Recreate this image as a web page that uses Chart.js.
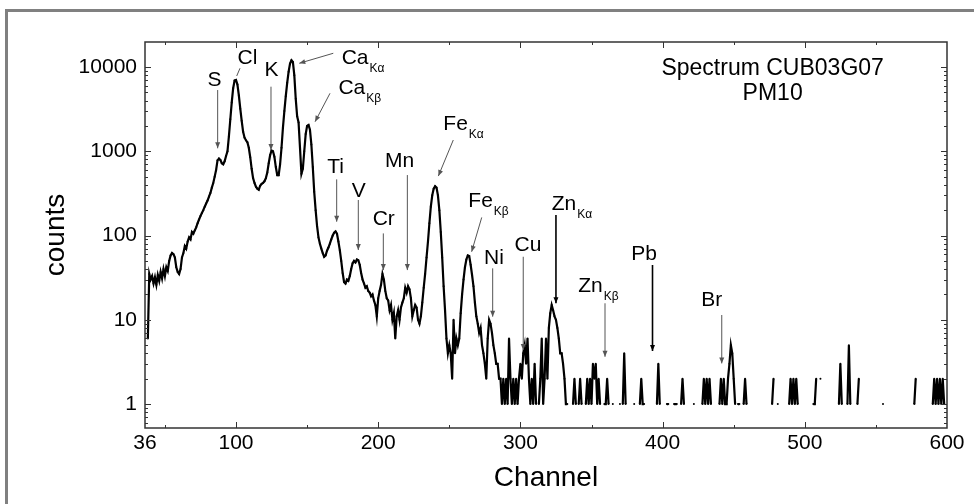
<!DOCTYPE html>
<html>
<head>
<meta charset="utf-8">
<script src="https://cdn.jsdelivr.net/npm/chart.js@4/dist/chart.umd.min.js"></script>
<style>
  html, body { margin: 0; padding: 0; background: #fff; }
  #c { display: block; }
</style>
</head>
<body>
<canvas id="c" width="974" height="504"></canvas>
<script>
// spectrum: counts per channel, starting at channel 36 (0 = no counts)
const firstChannel = 36;
const counts = [
  0, 0, 6, 35, 30, 33, 27, 32, 26, 34,
  29, 37, 31, 40, 33, 42, 38, 50, 58, 62,
  60, 55, 42, 37, 35, 40, 55, 62, 75, 70,
  85, 95, 90, 110, 105, 115, 125, 140, 155, 170,
  185, 200, 220, 240, 260, 290, 320, 370, 420, 500,
  600, 780, 820, 790, 720, 700, 760, 880, 1000, 1500,
  2400, 3800, 5600, 6900, 7000, 6200, 4600, 3200, 2300, 1700,
  1450, 1350, 1280, 1100, 850, 620, 480, 420, 380, 360,
  350, 390, 410, 420, 440, 480, 560, 720, 900, 1020,
  1000, 860, 650, 520, 520, 700, 1100, 1900, 3000, 4500,
  6500, 8800, 11000, 12000, 11500, 8000, 4200, 2600, 2200, 1100,
  540, 620, 1000, 1600, 2000, 2050, 1800, 1200, 650, 330,
  200, 130, 95, 80, 70, 62, 56, 58, 66, 72,
  80, 90, 100, 108, 112, 105, 85, 67, 50, 36,
  28, 27, 30, 29, 33, 40, 47, 50, 48, 52,
  51, 45, 36, 30, 27, 24, 25, 22, 21, 19,
  20, 17, 15, 11, 18, 22, 26, 35, 30, 22,
  18, 17, 13, 15, 10, 12, 6, 11, 13, 10,
  14, 16, 18, 24, 21, 25, 23, 18, 11, 13,
  15, 14, 10, 9, 11, 16, 24, 35, 55, 85,
  140, 220, 300, 360, 385, 370, 300, 200, 110, 55,
  25, 13, 6, 4, 5, 4, 2, 10, 4, 6,
  5, 6, 12, 20, 30, 42, 52, 58, 57, 45,
  34, 25, 16, 11, 9, 7, 8, 5, 4, 3,
  2, 6, 10, 9, 7, 5, 4, 3, 3, 2,
  2, 1, 2, 1, 2, 1, 6, 2, 1, 2,
  1, 2, 1, 2, 3, 2, 4, 5, 3, 6,
  2, 1, 2, 1, 3, 1, 0, 1, 2, 6,
  1, 2, 6, 2, 8, 12, 15, 13, 11, 10,
  8, 6, 4, 4, 3, 2, 1, 1, 0, 0,
  0, 1, 2, 1, 0, 1, 2, 1, 0, 0,
  1, 2, 1, 2, 1, 3, 2, 3, 1, 2,
  1, 0, 0, 1, 1, 2, 1, 0, 0, 1,
  0, 0, 0, 0, 1, 0, 1, 4, 1, 0,
  0, 0, 0, 0, 1, 0, 0, 0, 1, 2,
  1, 1, 0, 0, 0, 0, 0, 0, 0, 0,
  1, 3, 1, 0, 0, 0, 0, 1, 1, 0,
  0, 0, 1, 1, 1, 0, 0, 1, 2, 1,
  0, 0, 0, 0, 0, 0, 1, 0, 0, 0,
  0, 0, 1, 2, 1, 2, 1, 2, 1, 0,
  0, 0, 0, 0, 1, 2, 1, 2, 1, 1,
  2, 3, 5, 4, 2, 1, 0, 1, 1, 0,
  0, 1, 2, 1, 0, 0, 0, 0, 0, 0,
  0, 0, 0, 0, 0, 0, 0, 0, 0, 0,
  0, 1, 2, 0, 0, 1, 0, 0, 0, 0,
  0, 0, 0, 1, 2, 1, 2, 1, 2, 1,
  0, 0, 0, 0, 0, 0, 0, 0, 0, 0,
  1, 1, 2, 0, 0, 2, 0, 0, 0, 0,
  0, 0, 0, 0, 0, 0, 0, 0, 1, 3,
  1, 0, 0, 0, 1, 5, 1, 0, 0, 0,
  0, 1, 2, 0, 0, 0, 0, 0, 0, 0,
  0, 0, 0, 0, 0, 0, 0, 0, 0, 1,
  0, 0, 0, 0, 0, 0, 0, 0, 0, 0,
  0, 0, 0, 0, 0, 0, 0, 0, 0, 0,
  0, 1, 2, 0, 0, 0, 0, 0, 0, 0,
  0, 0, 0, 0, 1, 2, 1, 2, 1, 2,
  1, 2, 1, 0, 0
];

const xTickValues = [36, 100, 200, 300, 400, 500, 600];
const xMinorTicks = [50, 150, 250, 350, 450, 550];
const yTickValues = [1, 10, 100, 1000, 10000];

// element labels: text anchor and arrow (from -> to) in channel / counts units
const peakLabels = [
  { text: 'S', x: 84.9, y: 5950, arrow: [87.1, 5330, 87.1, 1084] },
  { text: 'Cl', x: 108.1, y: 10860, arrow: [102.8, 9660, 100.5, 7820], noHead: true },
  { text: 'K', x: 125, y: 7820, arrow: [124.6, 5840, 124.6, 1035] },
  { text: 'Ca', sub: 'K\u03b1', x: 174.3, y: 10860, left: true, arrow: [168.4, 14550, 144.5, 11070] },
  { text: 'Ca', sub: 'K\u03b2', x: 172.0, y: 4780, left: true, arrow: [166.1, 4875, 155.6, 2243] },
  { text: 'Ti', x: 170, y: 547, arrow: [170.8, 464, 170.8, 146] },
  { text: 'V', x: 186.3, y: 289, arrow: [186, 264, 186, 67.3] },
  { text: 'Cr', x: 203.9, y: 133, arrow: [203.6, 106, 203.6, 38.9] },
  { text: 'Mn', x: 215.1, y: 656, arrow: [220.5, 522, 220.5, 38.9] },
  { text: 'Fe', sub: 'K\u03b1', x: 245.8, y: 1787, left: true, arrow: [252.8, 1360, 242.3, 508] },
  { text: 'Fe', sub: 'K\u03b2', x: 263.4, y: 220, left: true, arrow: [272.8, 164, 265.7, 64.2] },
  { text: 'Ni', x: 281.4, y: 45.9, arrow: [280.5, 40.8, 280.5, 10.9] },
  { text: 'Cu', x: 305.3, y: 66, arrow: [302, 56, 302, 4.38] },
  { text: 'Zn', sub: 'K\u03b1', x: 322, y: 201, left: true, arrow: [325, 175, 325, 15.7], bold: true },
  { text: 'Zn', sub: 'K\u03b2', x: 340.7, y: 21.5, left: true, arrow: [359.5, 15.7, 359.5, 3.64] },
  { text: 'Pb', x: 386.9, y: 51.2, arrow: [392.9, 44.7, 392.9, 4.26], bold: true },
  { text: 'Br', x: 434.5, y: 14.7, arrow: [441.6, 11.4, 441.6, 3.04] }
];
const titleLines = [
  { text: 'Spectrum CUB03G07', x: 477.4, y: 8040 },
  { text: 'PM10', x: 477.4, y: 4060 }
];

const FONT = '"Liberation Sans", Arial, sans-serif';

const points = counts.map((c, i) => ({ x: firstChannel + i, y: c > 0 ? c : null }));

const decor = {
  id: 'decor',
  beforeDraw(chart) {
    const ctx = chart.ctx;
    ctx.save();
    ctx.fillStyle = '#fff';
    ctx.fillRect(0, 0, chart.width, chart.height);
    // outer grey frame (top and left only)
    ctx.fillStyle = '#808080';
    ctx.fillRect(5, 9, chart.width - 5, 3);
    ctx.fillRect(5, 9, 3, chart.height - 9);
    ctx.restore();
  },
  afterDraw(chart) {
    const ctx = chart.ctx;
    const { left, right, top, bottom } = chart.chartArea;
    const xs = chart.scales.x, ys = chart.scales.y;
    ctx.save();

    // plot box
    ctx.strokeStyle = '#333';
    ctx.lineWidth = 1.5;
    ctx.strokeRect(left, top, right - left, bottom - top);

    // inward ticks on all four sides
    ctx.lineWidth = 1;
    ctx.beginPath();
    const xt = (v, len) => {
      const p = Math.round(xs.getPixelForValue(v)) + 0.5;
      ctx.moveTo(p, bottom); ctx.lineTo(p, bottom - len);
      ctx.moveTo(p, top); ctx.lineTo(p, top + len);
    };
    xTickValues.slice(1, -1).forEach(v => xt(v, 6));
    xMinorTicks.forEach(v => xt(v, 3));
    const yt = (v, len) => {
      const p = Math.round(ys.getPixelForValue(v)) + 0.5;
      ctx.moveTo(left, p); ctx.lineTo(left + len, p);
      ctx.moveTo(right, p); ctx.lineTo(right - len, p);
    };
    yTickValues.forEach(v => yt(v, 6));
    [0.1, 1, 10, 100, 1000].forEach(d => {
      for (let m = 2; m <= 9; m++) {
        const v = d * m;
        if (v >= ys.min && v <= ys.max) yt(v, 3);
      }
    });
    ctx.stroke();

    // element labels and arrows
    peakLabels.forEach(l => {
      const [a1, b1, a2, b2] = l.arrow;
      const x1 = xs.getPixelForValue(a1), y1 = ys.getPixelForValue(b1);
      const x2 = xs.getPixelForValue(a2), y2 = ys.getPixelForValue(b2);
      ctx.strokeStyle = l.bold ? '#000' : '#555';
      ctx.fillStyle = ctx.strokeStyle;
      ctx.lineWidth = l.bold ? 1.6 : 1;
      ctx.beginPath();
      ctx.moveTo(x1, y1);
      ctx.lineTo(x2, y2);
      ctx.stroke();
      if (!l.noHead) {
        const ang = Math.atan2(y2 - y1, x2 - x1);
        const hl = 6, hw = 2.5;
        ctx.beginPath();
        ctx.moveTo(x2, y2);
        ctx.lineTo(x2 - hl * Math.cos(ang) + hw * Math.sin(ang), y2 - hl * Math.sin(ang) - hw * Math.cos(ang));
        ctx.lineTo(x2 - hl * Math.cos(ang) - hw * Math.sin(ang), y2 - hl * Math.sin(ang) + hw * Math.cos(ang));
        ctx.closePath();
        ctx.fill();
      }

      const tx = xs.getPixelForValue(l.x), ty = ys.getPixelForValue(l.y);
      ctx.fillStyle = '#000';
      ctx.textBaseline = 'alphabetic';
      ctx.font = '21px ' + FONT;
      ctx.textAlign = l.left ? 'left' : 'center';
      ctx.fillText(l.text, tx, ty);
      if (l.sub) {
        const w = ctx.measureText(l.text).width;
        ctx.font = '12px ' + FONT;
        ctx.textAlign = 'left';
        ctx.fillText(l.sub, tx + w + 1, ty + 8);
      }
    });

    ctx.font = '23px ' + FONT;
    ctx.textAlign = 'center';
    ctx.fillStyle = '#000';
    titleLines.forEach(t => {
      ctx.fillText(t.text, xs.getPixelForValue(t.x), ys.getPixelForValue(t.y));
    });
    ctx.restore();
  }
};

new Chart(document.getElementById('c'), {
  type: 'line',
  data: {
    datasets: [{
      data: points,
      borderColor: '#000',
      borderWidth: 2.2,
      pointRadius: 1,
      pointBorderWidth: 0,
      pointBackgroundColor: '#000',
      tension: 0,
      spanGaps: false
    }]
  },
  options: {
    responsive: false,
    animation: false,
    devicePixelRatio: 1,
    layout: { padding: { left: 0, top: 42, right: 27, bottom: 0 } },
    plugins: { legend: { display: false }, tooltip: { enabled: false } },
    scales: {
      x: {
        type: 'linear',
        min: 36,
        max: 600,
        afterBuildTicks: s => { s.ticks = xTickValues.map(v => ({ value: v })); },
        afterFit: s => { s.height = 76; },
        grid: { display: false, drawTicks: false },
        border: { display: false },
        ticks: {
          color: '#000',
          font: { family: FONT, size: 21 },
          padding: 3,
          maxRotation: 0,
          autoSkip: false,
          callback: v => String(v)
        },
        title: {
          display: true,
          text: 'Channel',
          color: '#000',
          font: { family: FONT, size: 28 },
          padding: { top: 0, bottom: 9 }
        }
      },
      y: {
        type: 'logarithmic',
        min: 0.52,
        max: 19800,
        afterBuildTicks: s => { s.ticks = yTickValues.map(v => ({ value: v })); },
        afterFit: s => { s.width = 145; },
        grid: { display: false, drawTicks: false },
        border: { display: false },
        ticks: {
          color: '#000',
          font: { family: FONT, size: 21 },
          padding: 8,
          autoSkip: false,
          callback: v => String(v)
        },
        title: {
          display: true,
          text: 'counts',
          color: '#000',
          font: { family: FONT, size: 28 },
          padding: { top: 39, bottom: 0 }
        }
      }
    }
  },
  plugins: [decor]
});
</script>
</body>
</html>
